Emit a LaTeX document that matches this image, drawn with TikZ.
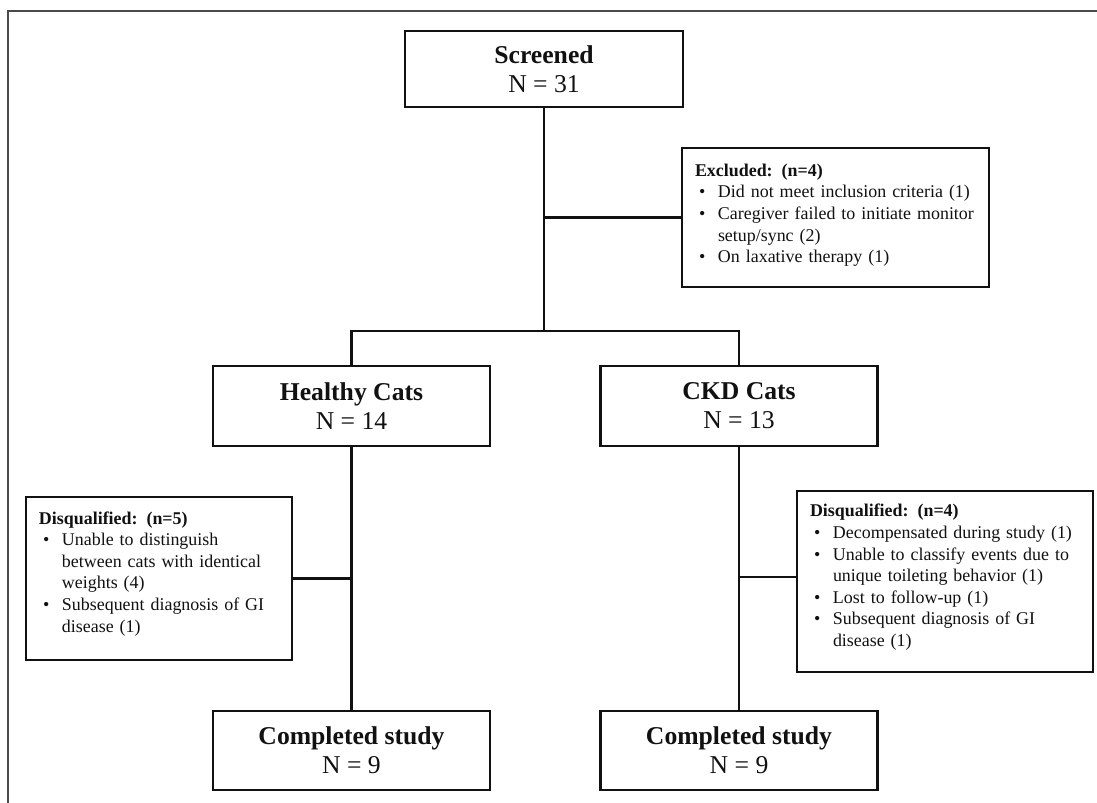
\documentclass[tikz,border=0pt]{standalone}
\usepackage{fontspec}
\setmainfont{Liberation Serif}
\usepackage{xcolor}
\usepackage{tikz}
\usetikzlibrary{positioning,calc}
\definecolor{ink}{HTML}{111111}
\definecolor{rim}{HTML}{4A4A4A}
\tikzset{
  base/.style={
    draw=ink, line width=1.4pt, fill=white, text=ink, align=center,
    inner sep=2pt, minimum width=55.4mm, minimum height=16mm,
    font=\fontsize{14.6}{16.4}\selectfont
  },
  listbox/.style={
    draw=ink, line width=1.4pt, fill=white, text=ink, align=left,
    inner xsep=2.6mm, font=\fontsize{10.2}{12.3}\selectfont
  },
  link/.style={draw=ink, line width=1.4pt},
  outerframe/.style={draw=rim, line width=1.1pt}
}
\newcommand{\itm}[1]{\mbox{\makebox[4.6mm][l]{\hspace{0.8mm}\textbullet}#1}}
\newcommand{\cnt}[1]{\mbox{\hspace*{4.6mm}#1}}

\begin{document}
\begin{tikzpicture}[x=1cm,y=1cm]
  \useasboundingbox (0,0) rectangle (21.94,-16.06);
  % outer frame
  \draw[outerframe] (0.16,-16.5) -- (0.16,-0.22) -- (22.5,-0.22);

  % screening
  \node[base, minimum width=55.6mm, minimum height=15.2mm] (scr) at (10.88,-1.38)
     {\textbf{Screened}\\N = 31};
  \node[listbox, text width=56.2mm, minimum height=27.8mm, text depth=19.0mm] (exc) at (16.71,-4.35)
     {\textbf{Excluded: (n=4)}\\
      \itm{Did not meet inclusion criteria (1)}\\
      \itm{Caregiver failed to initiate monitor}\\
      \cnt{setup/sync (2)}\\
      \itm{On laxative therapy (1)}};

  % groups
  \node[base] (hea) at (7.03,-8.12) {\textbf{Healthy Cats}\\N = 14};
  \node[base] (ckd) at (14.78,-8.12) {\textbf{CKD Cats}\\N = 13};

  % disqualified
  \node[listbox, text width=48.0mm, minimum height=32.6mm, text depth=24.3mm] (dqh) at (3.18,-11.57)
     {\textbf{Disqualified: (n=5)}\\
      \itm{Unable to distinguish}\\
      \cnt{between cats with identical}\\
      \cnt{weights (4)}\\
      \itm{Subsequent diagnosis of GI}\\
      \cnt{disease (1)}};
  \node[listbox, text width=54.0mm, minimum height=36.2mm, text depth=28.4mm] (dqc) at (18.90,-11.63)
     {\textbf{Disqualified: (n=4)}\\
      \itm{Decompensated during study (1)}\\
      \itm{Unable to classify events due to}\\
      \cnt{unique toileting behavior (1)}\\
      \itm{Lost to follow-up (1)}\\
      \itm{Subsequent diagnosis of GI}\\
      \cnt{disease (1)}};

  % completed
  \node[base, minimum height=15.8mm] (cph) at (7.03,-15.01) {\textbf{Completed study}\\N = 9};
  \node[base, minimum height=15.8mm] (cpc) at (14.78,-15.01) {\textbf{Completed study}\\N = 9};

  % edges
  \coordinate (fork) at (10.88,-6.62);
  \draw[link] (scr) -- (fork);
  \draw[link] (hea) |- (fork) -| (ckd);
  \draw[link] (exc.west) -- (exc.west -| fork);
  \draw[link] (hea) -- (cph);
  \draw[link] (ckd) -- (cpc);
  \draw[link] (dqh.east) -- (dqh.east -| hea.south);
  \draw[link] ([yshift=0.9mm]dqc.west) -- ([yshift=0.9mm]dqc.west -| ckd.south);
\end{tikzpicture}
\end{document}
